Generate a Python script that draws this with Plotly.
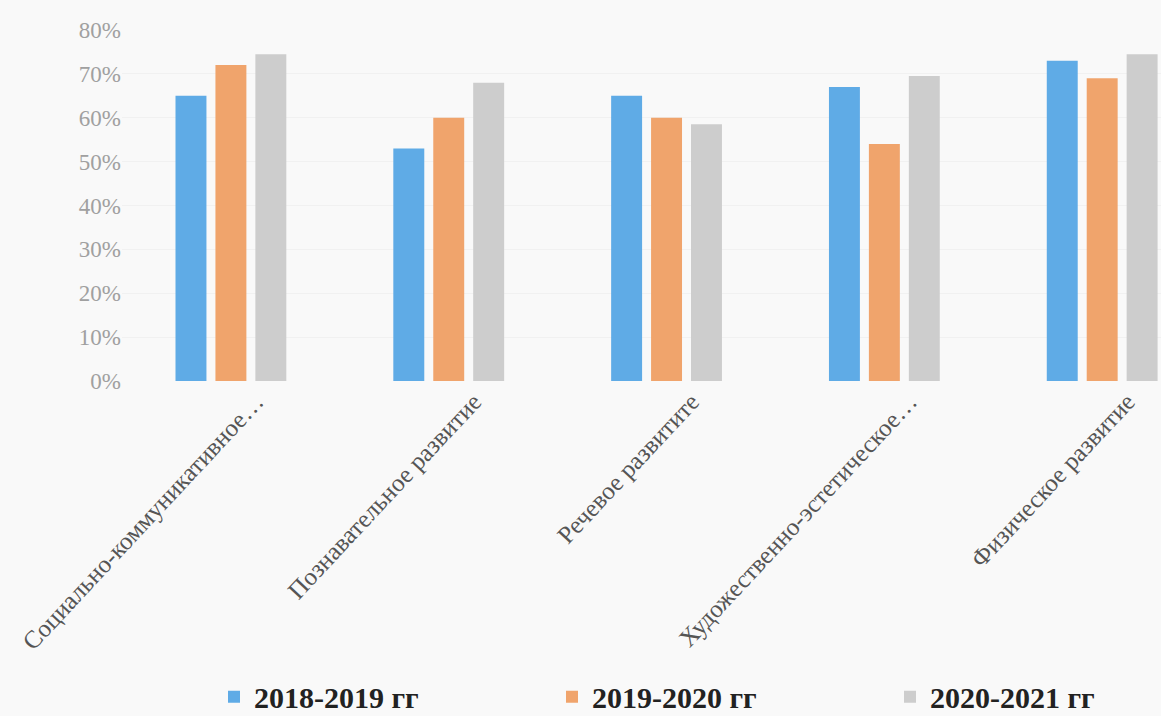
import plotly.graph_objects as go

categories = ["Социально-коммуникативное…", "Познавательное развитие", "Речевое развитите",
              "Художественно-эстетическое…", "Физическое развитие"]
series_names = ["2018-2019 гг", "2019-2020 гг", "2020-2021 гг"]
v2018 = [0.65, 0.53, 0.65, 0.67, 0.73]
v2019 = [0.72, 0.60, 0.60, 0.54, 0.69]
v2020 = [0.745, 0.68, 0.585, 0.695, 0.745]
colors = ["#5fabe6", "#f0a46c", "#cdcdcd"]
y_ticks = [0, 0.1, 0.2, 0.3, 0.4, 0.5, 0.6, 0.7, 0.8]

legend_ids = ["legend", "legend2", "legend3"]
legend_text_x = [254, 592, 930]

fig = go.Figure()
for name, vals, c, lg in zip(series_names, [v2018, v2019, v2020], colors, legend_ids):
    fig.add_trace(go.Bar(x=list(range(len(categories))), y=vals, name=name, marker_color=c,
                         marker_line_width=0, legend=lg))

legend_style = dict(orientation="h", xref="container", xanchor="left", yref="container",
                    y=0.027, yanchor="middle",
                    font=dict(size=30, color="#222", family="Liberation Serif", weight="bold"),
                    bgcolor="rgba(0,0,0,0)")
legend_layout = {}
for lg, tx in zip(legend_ids, legend_text_x):
    legend_layout[lg] = dict(legend_style, x=(tx - 40) / 1161)

fig.update_layout(
    width=1161, height=716,
    margin=dict(l=122, r=0, t=30, b=335),
    paper_bgcolor="#f9f9f9", plot_bgcolor="#f9f9f9",
    barmode="group", bargap=0.45, bargroupgap=0.225,
    font=dict(family="Liberation Serif", color="#333"),
    xaxis=dict(range=[-0.5, 4.27], tickmode="array", tickvals=list(range(len(categories))),
               ticktext=categories, tickangle=-47, tickfont=dict(size=25, color="#555555"),
               ticklabelshift=25, ticklabelstandoff=0,
               showgrid=False, zeroline=False, showline=False, ticks=""),
    yaxis=dict(range=[0, 0.8], tickvals=y_ticks, tickformat=".0%",
               tickfont=dict(size=23, color="#a0a0a0"), showgrid=True, gridcolor="#f1f1f1",
               zeroline=False, showline=False, ticks=""),
    showlegend=True,
    **legend_layout,
)
fig.write_html("out.html", config={"displayModeBar": False},
               post_script="document.body.style.margin='0';document.body.style.overflow='hidden';")
